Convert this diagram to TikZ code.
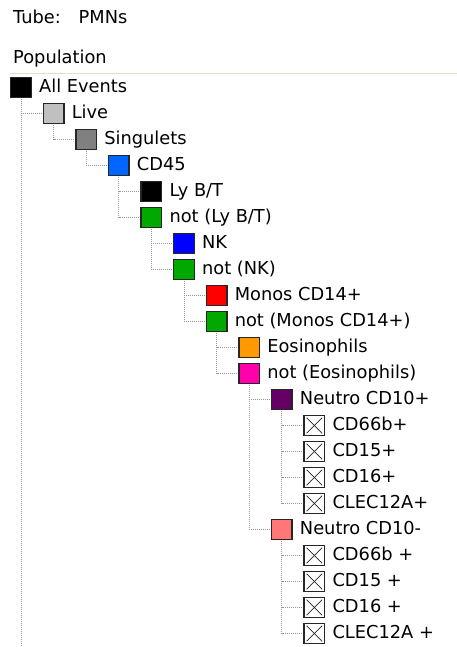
\documentclass[tikz,border=0pt]{standalone}
\usepackage{fontspec}
\setmainfont{DejaVu Sans}
\usetikzlibrary{positioning}

\definecolor{cdblue}{RGB}{0,102,255}
\definecolor{nkblue}{RGB}{0,0,255}
\definecolor{gategreen}{RGB}{0,168,0}
\definecolor{monored}{RGB}{255,0,0}
\definecolor{eosorange}{RGB}{255,153,0}
\definecolor{eospink}{RGB}{255,0,170}
\definecolor{neutropurple}{RGB}{102,0,102}
\definecolor{neutrosalmon}{RGB}{255,119,119}
\definecolor{livegray}{RGB}{192,192,192}
\definecolor{singgray}{RGB}{128,128,128}
\definecolor{rulebeige}{RGB}{226,222,200}
\definecolor{dotgray}{RGB}{150,150,150}

\begin{document}
\begin{tikzpicture}[
    x=1pt, y=-1pt,
    gate/.style={draw=black!85, line width=1.4pt, minimum size=20.5pt, inner sep=0pt},
    xgate/.style={gate, fill=white, path picture={
        \draw[line width=0.8pt] ([shift={(2.5pt,-2.5pt)}]path picture bounding box.north west) -- ([shift={(-2.5pt,2.5pt)}]path picture bounding box.south east);
        \draw[line width=0.8pt] ([shift={(-2.5pt,-2.5pt)}]path picture bounding box.north east) -- ([shift={(2.5pt,2.5pt)}]path picture bounding box.south west);
      }},
    lbl/.style={font=\fontsize{17.8}{20}\selectfont, inner sep=0pt, text height=12pt, text depth=2pt},
    dotlink/.style={draw=dotgray, line width=1pt, dash pattern=on 1pt off 1pt, shorten <=0.7pt},
  ]
  \useasboundingbox (0,0) rectangle (457,647);

  % header
  \node[lbl, anchor=base west] (tube) at (13,24) {Tube:\quad PMNs};
  \node[lbl, anchor=base west] (pop) at (13,64) {Population};
  \coordinate (ruleL) at (10,73.5);
  \coordinate (ruleR) at (457,73.5);
  \draw[rulebeige, line width=1pt] (ruleL) -- (ruleR);

  % gates
  \node[gate, fill=black] (all) at (21,87.5) {};
  \node[lbl, right=7pt of all] (allL) {All Events};
  \node[gate, fill=livegray] (live) at (53.6,113.5) {};
  \node[lbl, right=7pt of live] (liveL) {Live};
  \node[gate, fill=singgray] (sing) at (86.2,139.5) {};
  \node[lbl, right=7pt of sing] (singL) {Singulets};
  \node[gate, fill=cdblue] (cd45) at (118.8,165.5) {};
  \node[lbl, right=7pt of cd45] (cd45L) {CD45};
  \node[gate, fill=black] (lybt) at (151.4,191.5) {};
  \node[lbl, right=7pt of lybt] (lybtL) {Ly B/T};
  \node[gate, fill=gategreen] (notlybt) at (151.4,217.5) {};
  \node[lbl, right=7pt of notlybt] (notlybtL) {not (Ly B/T)};
  \node[gate, fill=nkblue] (nk) at (184,243.5) {};
  \node[lbl, right=7pt of nk] (nkL) {NK};
  \node[gate, fill=gategreen] (notnk) at (184,269.5) {};
  \node[lbl, right=7pt of notnk] (notnkL) {not (NK)};
  \node[gate, fill=monored] (mono) at (216.6,295.5) {};
  \node[lbl, right=7pt of mono] (monoL) {Monos CD14+};
  \node[gate, fill=gategreen] (notmono) at (216.6,321.5) {};
  \node[lbl, right=7pt of notmono] (notmonoL) {not (Monos CD14+)};
  \node[gate, fill=eosorange] (eos) at (249.2,347.5) {};
  \node[lbl, right=7pt of eos] (eosL) {Eosinophils};
  \node[gate, fill=eospink] (noteos) at (249.2,373.5) {};
  \node[lbl, right=7pt of noteos] (noteosL) {not (Eosinophils)};

  % neutrophils CD10+
  \node[gate, fill=neutropurple] (neuP) at (281.8,399.5) {};
  \node[lbl, right=7pt of neuP] (neuPL) {Neutro CD10+};
  \node[xgate] (pA) at (314.4,425.5) {};
  \node[lbl, right=7pt of pA] (pAL) {CD66b+};
  \node[xgate] (pB) at (314.4,451.5) {};
  \node[lbl, right=7pt of pB] (pBL) {CD15+};
  \node[xgate] (pC) at (314.4,477.5) {};
  \node[lbl, right=7pt of pC] (pCL) {CD16+};
  \node[xgate] (pD) at (314.4,503.5) {};
  \node[lbl, right=7pt of pD] (pDL) {CLEC12A+};

  % neutrophils CD10-
  \node[gate, fill=neutrosalmon] (neuM) at (281.8,529.5) {};
  \node[lbl, right=7pt of neuM] (neuML) {Neutro CD10-};
  \node[xgate] (mA) at (314.4,555.5) {};
  \node[lbl, right=7pt of mA] (mAL) {CD66b +};
  \node[xgate] (mB) at (314.4,581.5) {};
  \node[lbl, right=7pt of mB] (mBL) {CD15 +};
  \node[xgate] (mC) at (314.4,607.5) {};
  \node[lbl, right=7pt of mC] (mCL) {CD16 +};
  \node[xgate] (mD) at (314.4,633.5) {};
  \node[lbl, right=7pt of mD] (mDL) {CLEC12A +};

  % tree lines
  \coordinate (allend) at (all.south |- 0,647);
  \draw[dotlink] (all.south) -- (allend);
  \draw[dotlink] (all.south) |- (live.west);
  \draw[dotlink] (live.south) |- (sing.west);
  \draw[dotlink] (sing.south) |- (cd45.west);
  \draw[dotlink] (cd45.south) |- (lybt.west);
  \draw[dotlink] (cd45.south) |- (notlybt.west);
  \draw[dotlink] (notlybt.south) |- (nk.west);
  \draw[dotlink] (notlybt.south) |- (notnk.west);
  \draw[dotlink] (notnk.south) |- (mono.west);
  \draw[dotlink] (notnk.south) |- (notmono.west);
  \draw[dotlink] (notmono.south) |- (eos.west);
  \draw[dotlink] (notmono.south) |- (noteos.west);
  \draw[dotlink] (noteos.south) |- (neuP.west);
  \draw[dotlink] (noteos.south) |- (neuM.west);
  \foreach \g in {pA,pB,pC,pD}
    \draw[dotlink] (neuP.south) |- (\g.west);
  \foreach \g in {mA,mB,mC,mD}
    \draw[dotlink] (neuM.south) |- (\g.west);
\end{tikzpicture}
\end{document}
